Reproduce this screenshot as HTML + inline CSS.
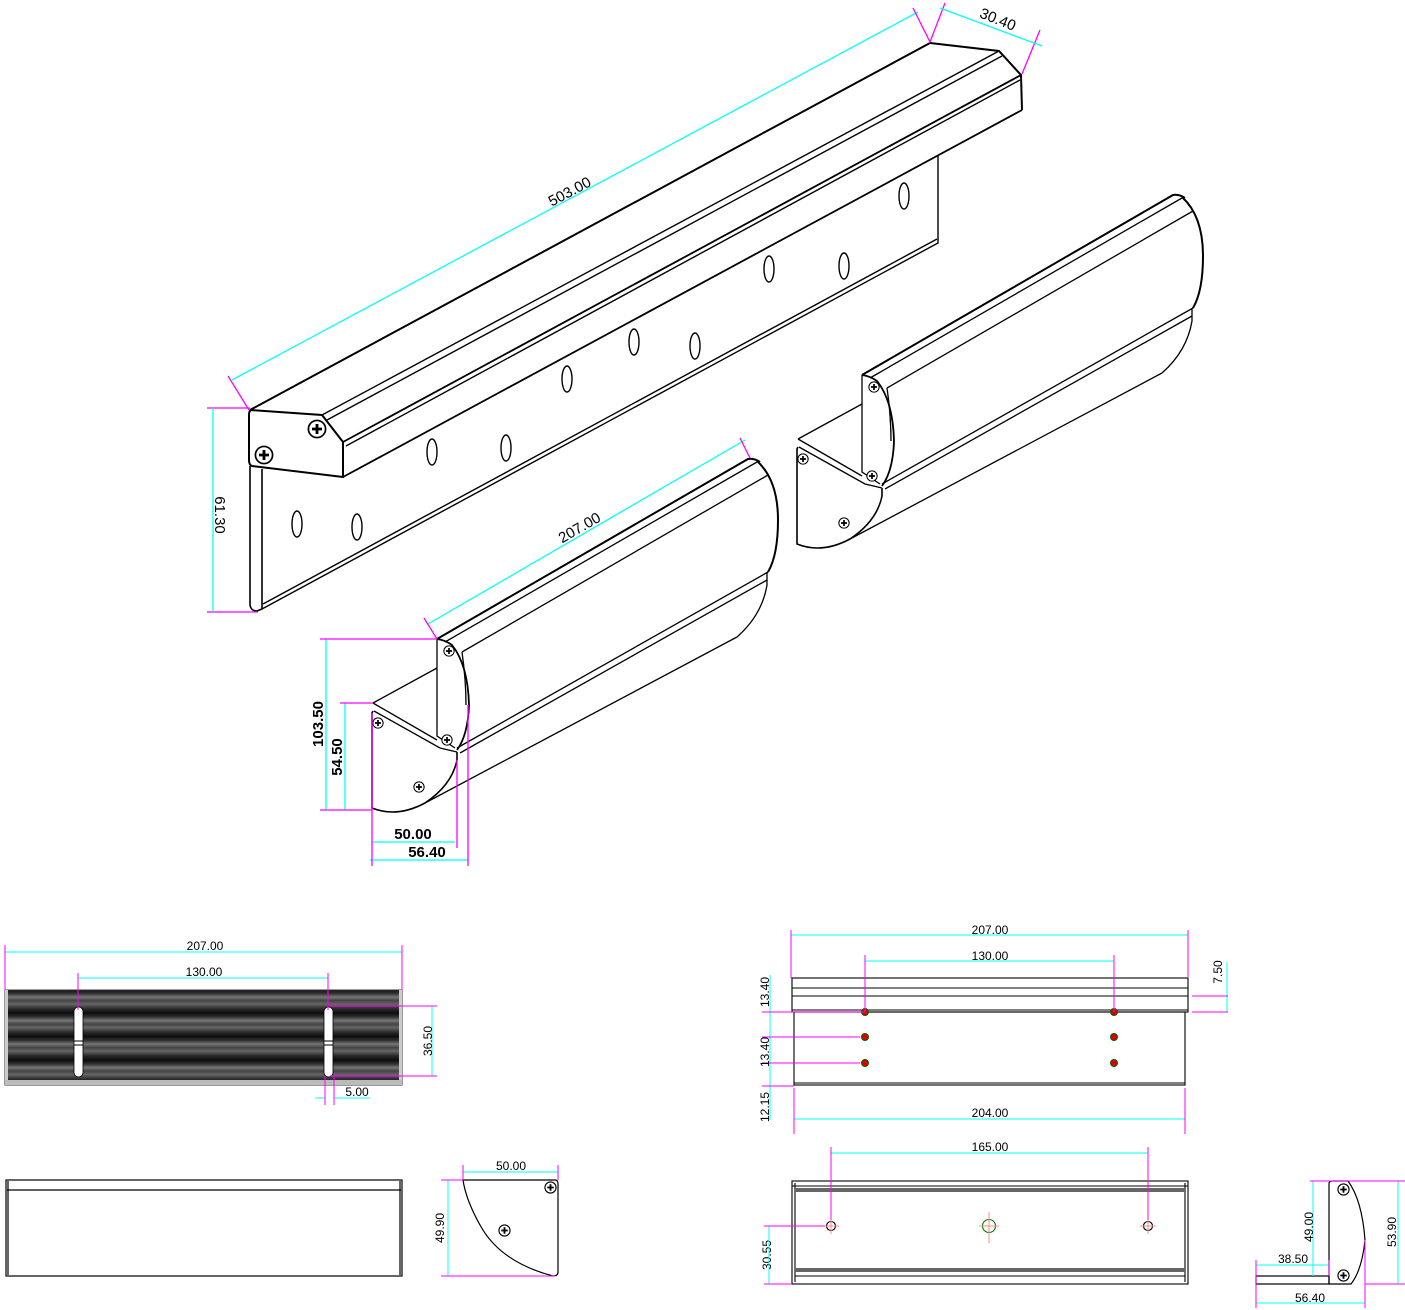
<!DOCTYPE html>
<html><head><meta charset="utf-8"><style>
html,body{margin:0;padding:0;background:#fff;}
svg{display:block;}
text{font-family:"Liberation Sans",sans-serif;}
</style></head><body>
<svg width="1405" height="1310" viewBox="0 0 1405 1310" xmlns="http://www.w3.org/2000/svg">
<defs>
<symbol id="scr" viewBox="-7 -7 14 14" overflow="visible">
<circle r="6" fill="#fff" stroke="#000" stroke-width="1.2"/>
<path d="M-3.5 0H3.5M0 -3.5V3.5" stroke="#000" stroke-width="2"/>
</symbol>
<linearGradient id="band" x1="0" y1="0" x2="0" y2="1">
<stop offset="0" stop-color="#111"/><stop offset="0.15" stop-color="#333"/><stop offset="0.3" stop-color="#777"/><stop offset="0.45" stop-color="#444"/><stop offset="0.6" stop-color="#666"/><stop offset="0.8" stop-color="#2a2a2a"/><stop offset="1" stop-color="#0a0a0a"/>
</linearGradient>
<pattern id="bands" x="0" y="990" width="10" height="23.5" patternUnits="userSpaceOnUse">
<rect width="10" height="23.5" fill="url(#band)"/>
</pattern>
<g id="smallbar" fill="none" stroke="#000" stroke-width="1.3">
<path d="M437 639 L748 459 Q754 458 760 462" stroke-width="2"/>
<path d="M445 642 L757 462"/>
<path d="M462 652 L768 475"/>
<path d="M757 461 Q778 480 778 520 Q778 555 768 572" stroke-width="2"/>
<path d="M437 639 L437 736 L455 748"/>
<path d="M437 639 Q445 640 452 645 Q468 665 469 705 Q468 735 457 750" stroke-width="1.8"/>
<path d="M462 652 Q466 680 466 705"/>
<path d="M457 748 L768 572"/>
<path d="M460 753 L767 580"/>
<path d="M767 572 L767 585 Q762 615 737 637"/>
<path d="M425 803 L737 637"/>
<path d="M373 703 L437 668"/>
<path d="M373 703 L437 740"/>
<path d="M374 711 L440 748 L457 752"/>
<path d="M373 711 L372 713 L372 808 Q397 818 425 803 Q452 785 457 760 L457 752" stroke-width="1.6"/>
<use href="#scr" x="449" y="651" width="12" height="12" transform="translate(-6 -6)"/>
<use href="#scr" x="447" y="740" width="12" height="12" transform="translate(-6 -6)"/>
<use href="#scr" x="378" y="723" width="12" height="12" transform="translate(-6 -6)"/>
<use href="#scr" x="419" y="787" width="12" height="12" transform="translate(-6 -6)"/>
</g>
</defs>

<g fill="none" stroke="#000" stroke-width="1.4">
<path d="M250 410 L930 43" stroke-width="2"/>
<path d="M930 43 L999 51 L1021 75 L1022 110" stroke-width="2"/>
<path d="M322 415 L999 51"/>
<path d="M327 420 L1002 56"/>
<path d="M343 442 L1021 75" stroke-width="1.8"/>
<path d="M346 446 L1020 80"/>
<path d="M343 477 L1022 110" stroke-width="1.8"/>
<path d="M250 410 L322 415 L343 442 L343 477 L252 466 Q249 465 249 460 L249 415 Q249 410 252 410" stroke-width="2"/>
<path d="M250 466 L250 605 Q251 611 257 611 L262 609 L262 469" stroke-width="1.6"/>
<path d="M262 609 L938 243 L938 155"/>
<path d="M263 604 L937 239"/>
<ellipse cx="297" cy="524" rx="5" ry="13"/><ellipse cx="357" cy="527" rx="5" ry="13"/>
<ellipse cx="432" cy="452" rx="5" ry="13"/><ellipse cx="506" cy="448" rx="5" ry="13"/>
<ellipse cx="567" cy="379" rx="5" ry="13"/><ellipse cx="634" cy="342" rx="5" ry="13"/>
<ellipse cx="695" cy="346" rx="5" ry="13"/><ellipse cx="769" cy="269" rx="5" ry="13"/>
<ellipse cx="844" cy="266" rx="5" ry="13"/><ellipse cx="904" cy="196" rx="5" ry="13"/>
</g>
<use href="#scr" x="254" y="445" width="20" height="20"/>
<use href="#scr" x="307" y="419" width="20" height="20"/>

<g stroke-width="1.3" fill="none">
<path d="M232 380 L918 12" stroke="#0ff"/>
<path d="M228 376 L249 410 M207 408 L250 408 M207 612 L258 612 M913 8 L930 42 M945 3 L930 42 M1040 30 L1022 74" stroke="#f0f"/>
<path d="M213 408 L213 612 M940 8 L1042 46" stroke="#0ff"/>
</g>
<text x="572" y="196" font-size="15" transform="rotate(-28 572 196)" text-anchor="middle">503.00</text>
<text x="996" y="24" font-size="15" transform="rotate(22 996 24)" text-anchor="middle">30.40</text>
<text x="215" y="515" font-size="15" transform="rotate(90 215 515)" text-anchor="middle">61.30</text>

<use href="#smallbar"/>
<use href="#smallbar" transform="translate(425 -264)"/>

<g stroke-width="1.3" fill="none">
<path d="M428 624 L745 440 M326 639 L326 810 M345 703 L345 810 M372 842 L455 842 M370 860 L468 860" stroke="#0ff"/>
<path d="M424 618 L437 639 M740 438 L750 458 M320 639 L437 639 M320 810 L372 810 M340 703 L373 703 M372 713 L372 866 M457 760 L457 848 M468 705 L468 866" stroke="#f0f"/>
</g>
<text x="582" y="532" font-size="15" transform="rotate(-30 582 532)" text-anchor="middle">207.00</text>
<text x="323" y="724" font-size="15" font-weight="bold" transform="rotate(-90 323 724)" text-anchor="middle">103.50</text>
<text x="342" y="757" font-size="15" font-weight="bold" transform="rotate(-90 342 757)" text-anchor="middle">54.50</text>
<text x="413" y="839" font-size="15" font-weight="bold" text-anchor="middle">50.00</text>
<text x="427" y="857" font-size="15" font-weight="bold" text-anchor="middle">56.40</text>

<rect x="5" y="990" width="397" height="95" fill="url(#bands)" stroke="#333"/>
<rect x="5" y="990" width="3" height="95" fill="#ccc"/>
<rect x="399" y="990" width="3" height="95" fill="#ccc"/>
<rect x="5" y="1080" width="397" height="5" fill="#bbb"/>
<rect x="74" y="1007" width="9" height="70" rx="4.5" fill="#fff" stroke="#000" stroke-width="0.8"/>
<rect x="324" y="1007" width="9" height="70" rx="4.5" fill="#fff" stroke="#000" stroke-width="0.8"/>
<path d="M74 1041H83M74 1045H83M324 1041H333M324 1045H333" stroke="#000"/>
<g stroke-width="1" fill="none">
<path d="M5 952 L402 952 M78 978 L328 978 M432 1006 L432 1076 M315 1098 L325 1098 M334 1098 L370 1098" stroke="#0ff"/>
<path d="M5 945 L5 990 M402 945 L402 990 M78 973 L78 1010 M328 973 L328 1010 M330 1006 L437 1006 M330 1076 L437 1076 M325 1076 L325 1105 M334 1076 L334 1105" stroke="#f0f"/>
</g>
<g font-size="12" text-anchor="middle">
<text x="205" y="950">207.00</text>
<text x="204" y="976">130.00</text>
<text x="357" y="1096">5.00</text>
<text x="432" y="1041" transform="rotate(-90 432 1041)">36.50</text>
</g>
<g fill="none" stroke="#000" stroke-width="1.2">
<rect x="6" y="1180" width="396" height="96"/>
<path d="M7 1190 H401 M8 1181 V1275 M400 1181 V1275"/>
<path d="M463 1180 H555 Q558 1180 558 1184 V1272 Q558 1276 553 1276 Q500 1262 480 1225 Q466 1200 463 1180 Z"/>
</g>
<use href="#scr" x="544" y="1181" width="13" height="13"/>
<use href="#scr" x="498" y="1224" width="13" height="13"/>
<g stroke-width="1" fill="none">
<path d="M463 1172 L558 1172 M448 1180 L448 1276" stroke="#0ff"/>
<path d="M463 1165 L463 1180 M558 1165 L558 1180 M441 1180 L463 1180 M441 1276 L555 1276" stroke="#f0f"/>
</g>
<text x="511" y="1170" font-size="12" text-anchor="middle">50.00</text>
<text x="444" y="1228" font-size="12" text-anchor="middle" transform="rotate(-90 444 1228)">49.90</text>

<g fill="none" stroke="#000" stroke-width="1.1">
<rect x="792" y="978" width="396" height="34"/>
<path d="M792 988 H1188 M792 996 H1188 M792 1010 H1188"/>
<rect x="794" y="1012" width="391" height="73"/>
<path d="M794 1083 H1185"/>
</g>
<g fill="#d00" stroke="#060" stroke-width="1">
<circle cx="865" cy="1012" r="3.5"/><circle cx="1114" cy="1012" r="3.5"/>
<circle cx="865" cy="1037" r="3.5"/><circle cx="1114" cy="1037" r="3.5"/>
<circle cx="865" cy="1063" r="3.5"/><circle cx="1114" cy="1063" r="3.5"/>
</g>
<g stroke-width="1" fill="none">
<path d="M791 935 L1188 935 M865 961 L1114 961 M1227 962 L1227 1012 M770 975 L770 1120 M794 1119 L1185 1119" stroke="#0ff"/>
<path d="M791 930 L791 978 M1188 930 L1188 978 M865 955 L865 1012 M1114 955 L1114 1012 M1192 996 L1228 996 M1192 1012 L1228 1012 M762 1012 L865 1012 M762 1037 L860 1037 M762 1063 L860 1063 M762 1086 L794 1086 M794 1088 L794 1134 M1185 1088 L1185 1134" stroke="#f0f"/>
</g>
<g font-size="12" text-anchor="middle">
<text x="990" y="934">207.00</text>
<text x="990" y="960">130.00</text>
<text x="990" y="1117">204.00</text>
<text x="1222" y="972" transform="rotate(-90 1222 972)">7.50</text>
<text x="769" y="992" transform="rotate(-90 769 992)">13.40</text>
<text x="769" y="1052" transform="rotate(-90 769 1052)">13.40</text>
<text x="769" y="1107" transform="rotate(-90 769 1107)">12.15</text>
<text x="990" y="1151">165.00</text>
<text x="771" y="1255" transform="rotate(-90 771 1255)">30.55</text>
</g>
<g fill="none" stroke="#000" stroke-width="1.1">
<rect x="792" y="1181" width="396" height="103"/>
<path d="M795 1183 V1282 M1185 1183 V1282 M792 1186 H1188"/>
<circle cx="831" cy="1226" r="4.5"/><circle cx="1148" cy="1226" r="4.5"/>
<circle cx="989" cy="1226" r="6.5" stroke="#070"/>
</g>
<rect x="795" y="1188" width="390" height="4" fill="#666"/>
<rect x="795" y="1268" width="390" height="4" fill="#666"/>
<path d="M795 1276 H1185" stroke="#000"/>
<g stroke="#f88" stroke-width="1">
<path d="M823 1226H839M831 1218V1234M1140 1226H1156M1148 1218V1234M979 1226H999M989 1212V1243"/>
</g>
<g stroke-width="1" fill="none">
<path d="M831 1153 L1148 1153 M769 1226 L769 1284" stroke="#0ff"/>
<path d="M831 1147 L831 1220 M1148 1147 L1148 1220 M764 1226 L825 1226 M764 1284 L792 1284" stroke="#f0f"/>
</g>
<g fill="none" stroke="#000" stroke-width="1.2">
<path d="M1329 1284 V1184 Q1329 1181 1332 1181 H1348 Q1362 1200 1365 1240 Q1362 1270 1351 1284 Z"/>
<rect x="1256" y="1276" width="73" height="8"/>
</g>
<use href="#scr" x="1337" y="1183" width="13" height="13"/>
<use href="#scr" x="1337" y="1269" width="13" height="13"/>
<g stroke-width="1" fill="none">
<path d="M1398 1181 L1398 1284 M1313 1181 L1313 1276 M1256 1265 L1329 1265 M1256 1303 L1365 1303" stroke="#0ff"/>
<path d="M1310 1181 L1405 1181 M1365 1284 L1405 1284 M1256 1260 L1256 1308 M1365 1240 L1365 1308 M1329 1260 L1329 1276" stroke="#f0f"/>
</g>
<g font-size="12" text-anchor="middle">
<text x="1293" y="1263">38.50</text>
<text x="1310" y="1302">56.40</text>
<text x="1313" y="1227" transform="rotate(-90 1313 1227)">49.00</text>
<text x="1396" y="1232" transform="rotate(-90 1396 1232)">53.90</text>
</g>
</svg>
</body></html>
